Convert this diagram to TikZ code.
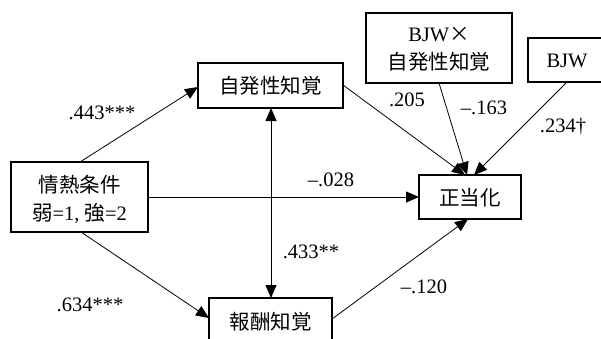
\documentclass[tikz,border=0pt]{standalone}
\usepackage{fontspec}
\setmainfont{Liberation Serif}
\newfontfamily\jp{Noto Sans CJK JP}
\usetikzlibrary{arrows.meta}
\tikzset{
  box/.style={draw, line width=1.3pt, inner sep=0pt},
  tip/.tip={Triangle[length=13pt,width=11pt]},
  conn/.style={line width=0.8pt, -tip},
  bconn/.style={line width=0.8pt, tip-tip},
  lab/.style={font=\fontsize{20.5}{22}\selectfont, inner sep=0pt},
  txt/.style={font=\fontsize{20.5}{28}\selectfont, align=center, inner sep=0pt}
}
\begin{document}
\begin{tikzpicture}[x=1pt,y=-1pt]
\useasboundingbox (0,0) rectangle (601,338);
\clip (0,0) rectangle (601,338);
% boxes
\draw[box] (11,162) rectangle (148,232);
\node[txt] (jtxt) at (79.5,199) {{\jp 情熱条件}\\{\jp 弱}=1, {\jp 強}=2};
\draw[box] (198,63) rectangle (343,108);
\node[txt] (jh) at (270.5,86) {\jp 自発性知覚};
\draw[box] (209,298) rectangle (332,350);
\node[txt] (hs) at (270.5,322) {\jp 報酬知覚};
\draw[box] (419,175) rectangle (521,219);
\node[txt] (sei) at (470,198) {\jp 正当化};
\draw[box] (366,13) rectangle (512,83);
\node[txt] (bx) at (439,49) {BJW{\jp ×}\\{\jp 自発性知覚}};
\draw[box] (528,38) rectangle (610,82);
\node[txt] (bjw) at (567,61) {BJW};
% named anchor coordinates
\coordinate (jtop) at (80,162);
\coordinate (jbot) at (81,232);
\coordinate (jright) at (148,197);
\coordinate (jhleft) at (198,87);
\coordinate (jhright) at (343,85);
\coordinate (jhbot) at (271,108);
\coordinate (hsleft) at (209,318);
\coordinate (hsright) at (332,319);
\coordinate (hstop) at (271,298);
\coordinate (seileft) at (419,197);
\coordinate (seitopA) at (465,175);
\coordinate (seitopB) at (467,175);
\coordinate (seitopC) at (474,175);
\coordinate (seibot) at (468,219);
\coordinate (bxbot) at (439,83);
\coordinate (bjwbot) at (567,82);
% connectors
\draw[conn] (jtop) -- (jhleft);
\draw[conn] (jbot) -- (hsleft);
\draw[conn] (jright) -- (seileft);
\draw[bconn] (jhbot) -- (hstop);
\draw[conn] (jhright) -- (seitopA);
\draw[conn] (bxbot) -- (seitopB);
\draw[conn] (bjwbot) -- (seitopC);
\draw[conn] (hsright) -- (seibot);
% labels
\node[lab] at (102,113) {.443***};
\node[lab] at (90,305) {.634***};
\node[lab] at (311,252) {.433**};
\node[lab] at (331,180) {--.028};
\node[lab] at (424,287) {--.120};
\node[lab] at (407,100) {.205};
\node[lab] at (484,108) {--.163};
\node[lab] at (563,127) {.234\textdagger};
\end{tikzpicture}
\end{document}
